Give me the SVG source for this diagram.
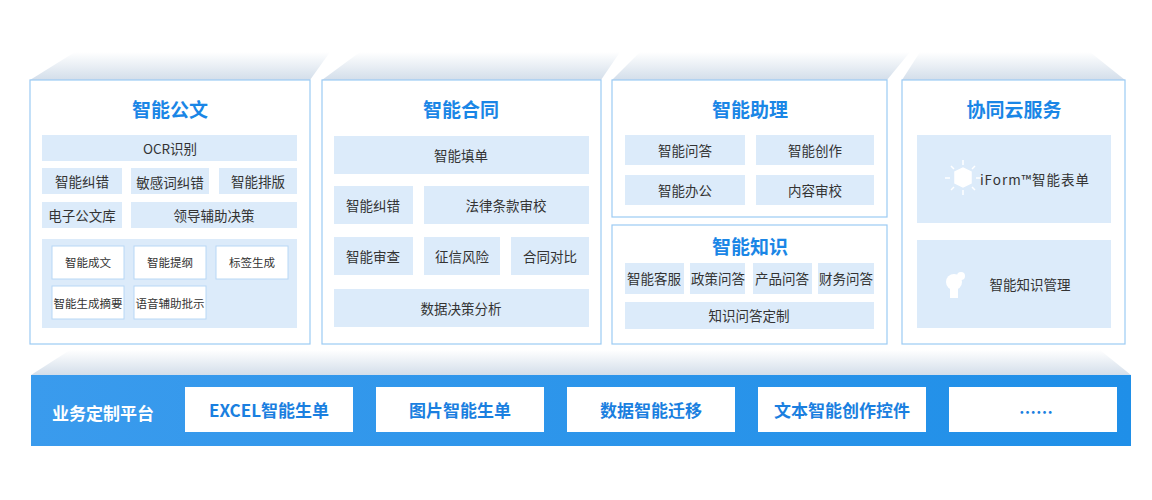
<svg xmlns="http://www.w3.org/2000/svg" width="1152" height="500" viewBox="0 0 1152 500">
<defs>
<linearGradient id="bev" x1="0" y1="0" x2="0" y2="1"><stop offset="0" stop-color="#ffffff"/><stop offset="1" stop-color="#d3deea"/></linearGradient>
<linearGradient id="bar" x1="0" y1="0" x2="1" y2="0"><stop offset="0" stop-color="#3a9bed"/><stop offset="1" stop-color="#1f8fe8"/></linearGradient>
<style>
text{font-family:"Noto Sans CJK SC","Noto Sans",sans-serif;text-anchor:middle;dominant-baseline:central}
.panel{fill:#fff;stroke:#9ccbf3;stroke-width:1.2}
.it{fill:#dcebfa}
.w{fill:#fff;stroke:#b8d8f5;stroke-width:1}
.t{font-size:19px;font-weight:bold;fill:#1a86e6}
.s{font-size:13.5px;fill:#333}
.x{font-size:11.5px;fill:#333}
.b{font-size:17px;font-weight:bold;fill:#1a7fe0}
.wb{fill:#fff}
</style>
</defs>
<g id="bevels">
<polygon points="30,80 75,52 330,52 310,80" fill="url(#bev)"/>
<polygon points="322,80 360,52 620,52 601,80" fill="url(#bev)"/>
<polygon points="612,80 640,52 910,52 887,80" fill="url(#bev)"/>
<polygon points="902,80 920,52 1090,52 1125,80" fill="url(#bev)"/>
<polygon points="31,375 70,350 1100,350 1131,375" fill="url(#bev)"/>
</g>
<g id="n1">
<rect class="panel" x="30" y="80" width="280" height="264"/>
<text class="t" x="170" y="108">智能公文</text>
<rect class="it" x="42" y="135" width="255" height="26"/><text class="s" x="170" y="148">OCR识别</text>
<rect class="it" x="42" y="168" width="80" height="26"/><text class="s" x="82" y="181">智能纠错</text>
<rect class="it" x="131" y="168" width="78" height="26"/><text class="s" x="170" y="182">敏感词纠错</text>
<rect class="it" x="219" y="168" width="78" height="26"/><text class="s" x="258" y="181">智能排版</text>
<rect class="it" x="42" y="202" width="80" height="26"/><text class="s" x="82" y="215">电子公文库</text>
<rect class="it" x="131" y="202" width="166" height="26"/><text class="s" x="214" y="215">领导辅助决策</text>
<rect class="it" x="42" y="239" width="255" height="89"/>
<rect class="w" x="52" y="246" width="72" height="33"/><text class="x" x="88" y="262">智能成文</text>
<rect class="w" x="134" y="246" width="72" height="33"/><text class="x" x="170" y="262">智能提纲</text>
<rect class="w" x="216" y="246" width="72" height="33"/><text class="x" x="252" y="262">标签生成</text>
<rect class="w" x="52" y="286" width="72" height="33"/><text class="x" x="88" y="303">智能生成摘要</text>
<rect class="w" x="134" y="286" width="72" height="33"/><text class="x" x="170" y="303">语音辅助批示</text>
</g>
<g id="n2">
<rect class="panel" x="322" y="80" width="279" height="264"/>
<text class="t" x="461" y="108">智能合同</text>
<rect class="it" x="334" y="136" width="255" height="38"/><text class="s" x="461" y="155">智能填单</text>
<rect class="it" x="334" y="186" width="79" height="38"/><text class="s" x="373" y="205">智能纠错</text>
<rect class="it" x="424" y="186" width="165" height="38"/><text class="s" x="506" y="205">法律条款审校</text>
<rect class="it" x="334" y="237" width="79" height="38"/><text class="s" x="373" y="256">智能审查</text>
<rect class="it" x="424" y="237" width="76" height="38"/><text class="s" x="462" y="256">征信风险</text>
<rect class="it" x="511" y="237" width="78" height="38"/><text class="s" x="550" y="256">合同对比</text>
<rect class="it" x="334" y="289" width="255" height="38"/><text class="s" x="461" y="308">数据决策分析</text>
</g>
<g id="n3">
<rect class="panel" x="612" y="80" width="275" height="137"/>
<text class="t" x="750" y="108">智能助理</text>
<rect class="it" x="625" y="135" width="120" height="30"/><text class="s" x="685" y="150">智能问答</text>
<rect class="it" x="756" y="135" width="118" height="30"/><text class="s" x="815" y="150">智能创作</text>
<rect class="it" x="625" y="175" width="120" height="30"/><text class="s" x="685" y="190">智能办公</text>
<rect class="it" x="756" y="175" width="118" height="30"/><text class="s" x="815" y="190">内容审校</text>
</g>
<g id="n4">
<rect class="panel" x="612" y="225" width="275" height="119"/>
<text class="t" x="750" y="245">智能知识</text>
<rect class="it" x="625" y="263" width="59" height="31"/><text class="s" x="654" y="278">智能客服</text>
<rect class="it" x="690" y="263" width="55" height="31"/><text class="s" x="718" y="278">政策问答</text>
<rect class="it" x="753" y="263" width="59" height="31"/><text class="s" x="782" y="278">产品问答</text>
<rect class="it" x="818" y="263" width="56" height="31"/><text class="s" x="846" y="278">财务问答</text>
<rect class="it" x="625" y="302" width="249" height="27"/><text class="s" x="749" y="315">知识问答定制</text>
</g>
<g id="n5">
<rect class="panel" x="902" y="80" width="223" height="264"/>
<text class="t" x="1014" y="108">协同云服务</text>
<rect class="it" x="917" y="135" width="194" height="88"/>
<g fill="#fff" stroke="#fff" stroke-width="1.5">
<polygon points="955,172 963,168 971,172 971,183 963,187 955,183"/>
<line x1="963" y1="160" x2="963" y2="165"/><line x1="963" y1="190" x2="963" y2="195"/>
<line x1="945" y1="178" x2="950" y2="178"/><line x1="976" y1="178" x2="981" y2="178"/>
<line x1="951" y1="166" x2="954" y2="169"/><line x1="975" y1="166" x2="972" y2="169"/>
<line x1="951" y1="190" x2="954" y2="187"/><line x1="975" y1="190" x2="972" y2="187"/>
</g>
<text class="s" x="1035" y="179" style="letter-spacing:1px">iForm™智能表单</text>
<rect class="it" x="917" y="240" width="194" height="88"/>
<g fill="#fff"><circle cx="954" cy="282" r="8"/><rect x="950" y="289" width="8" height="9"/><circle cx="961" cy="276" r="4"/></g>
<text class="s" x="1030" y="284">智能知识管理</text>
</g>
<g id="platform">
<rect x="31" y="375" width="1100" height="71" fill="url(#bar)"/>
<text x="103" y="412" style="font-size:17px;font-weight:bold;fill:#fff">业务定制平台</text>
<rect class="wb" x="185" y="387" width="168" height="45"/><text class="b" x="269" y="409">EXCEL智能生单</text>
<rect class="wb" x="376" y="387" width="168" height="45"/><text class="b" x="460" y="409">图片智能生单</text>
<rect class="wb" x="567" y="387" width="168" height="45"/><text class="b" x="651" y="409">数据智能迁移</text>
<rect class="wb" x="758" y="387" width="168" height="45"/><text class="b" x="842" y="409">文本智能创作控件</text>
<rect class="wb" x="949" y="387" width="168" height="45"/><text class="b" x="1036" y="411">……</text>
</g>
<g id="connectors"/>
</svg>
